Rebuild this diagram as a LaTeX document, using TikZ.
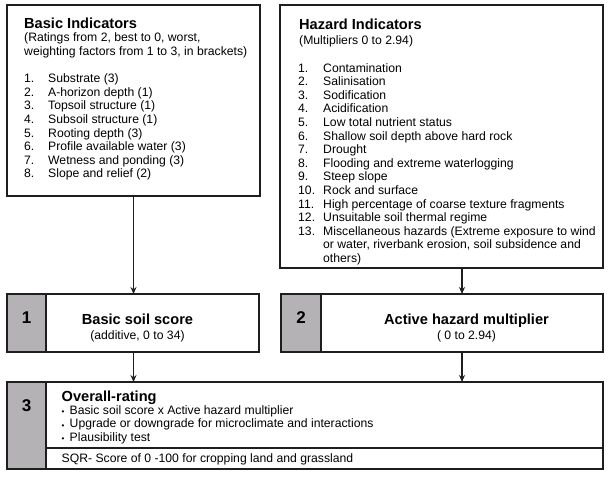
\documentclass[tikz,border=0pt]{standalone}
\usepackage{fontspec}
\setmainfont{Liberation Sans}
\usetikzlibrary{arrows.meta,positioning}
\definecolor{boxgrey}{RGB}{180,178,181}
\definecolor{boxline}{RGB}{30,30,30}
\tikzset{
    box/.style={rectangle, draw=boxline, line width=1.3pt, inner sep=0, outer sep=0, anchor=north west},
    nbox/.style={box, fill=boxgrey},
    ttl/.style={anchor=base west, inner sep=0, font=\fontsize{14.6}{16}\selectfont\bfseries},
    txt/.style={anchor=base west, inner sep=0, font=\fontsize{12.2}{13.6}\selectfont},
    num/.style={anchor=base, inner sep=0, font=\fontsize{17}{19}\selectfont\bfseries},
    dot/.style={anchor=base west, inner sep=0, font=\fontsize{8}{9}\selectfont},
    post/.style={-{Stealth[length=7pt, width=6pt]}, line width=1.2pt, draw=boxline},
  }

\begin{document}
\begin{tikzpicture}[x=1pt, y=1pt]
  \useasboundingbox (0,0) rectangle (610,-477);

  % indicator boxes
  \node (basic) [box, minimum width=253pt, minimum height=191pt] at (7,-5) {};
  \node (hazard) [box, minimum width=323pt, minimum height=263pt] at (280,-5) {};

  % numbered steps
  \node (num1) [nbox, minimum width=39pt, minimum height=58pt] at (7,-294) {};
  \node (score) [box, minimum width=213pt, minimum height=58pt, right=0pt of num1] {};
  \node (num2) [nbox, minimum width=40pt, minimum height=58pt] at (281,-294) {};
  \node (mult) [box, minimum width=282pt, minimum height=58pt, right=0pt of num2] {};
  \node (num3) [nbox, minimum width=39pt, minimum height=87pt] at (7,-382) {};
  \node (rating) [box, minimum width=557pt, minimum height=66pt] at (num3.north east) {};
  \node (sqr) [box, minimum width=557pt, minimum height=21pt, below=0pt of rating] {};

  \draw [post] (basic.south) -- (basic.south |- score.north);
  \draw [post] (basic.south |- score.south) -- (basic.south |- rating.north);
  \draw [post] (mult.north |- hazard.south) -- (mult.north);
  \draw [post] (mult.south) -- (mult.south |- rating.north);

  % basic indicators
  \node (basic-ttl) [ttl] at (24,-28.5) {Basic Indicators};
  \node (basic-n1) [txt] at (24,-41.8) {(Ratings from 2, best to 0, worst,};
  \node (basic-n2) [txt] at (24,-55.4) {weighting factors from 1 to 3, in brackets)};
  \foreach \t [count=\i] in {Substrate (3), A-horizon depth (1), Topsoil structure (1),
      Subsoil structure (1), Rooting depth (3), Profile available water (3),
      Wetness and ponding (3), Slope and relief (2)} {
    \node (basic-i\i) [txt] at (24,{-82.6-13.6*(\i-1)}) {\i.};
    \node (basic-t\i) [txt] at (48,{-82.6-13.6*(\i-1)}) {\t};
  }

  % hazard indicators
  \node (hazard-ttl) [ttl] at (299,-29) {Hazard Indicators};
  \node (hazard-n1) [txt] at (299,-44.8) {(Multipliers 0 to 2.94)};
  \foreach \t [count=\i] in {Contamination, Salinisation, Sodification, Acidification,
      Low total nutrient status, Shallow soil depth above hard rock, Drought,
      Flooding and extreme waterlogging, Steep slope, Rock and surface,
      High percentage of coarse texture fragments, Unsuitable soil thermal regime} {
    \node (hazard-i\i) [txt] at (298,{-72-13.6*(\i-1)}) {\i.};
    \node (hazard-t\i) [txt] at (323,{-72-13.6*(\i-1)}) {\t};
  }
  \node (hazard-i13) [txt] at (298,-235.2) {13.};
  \node (hazard-t13) [txt] at (323,-235.2) {Miscellaneous hazards (Extreme exposure to wind};
  \node (hazard-t14) [txt] at (323,-248.8) {or water, riverbank erosion, soil subsidence and};
  \node (hazard-t15) [txt] at (323,-262.4) {others)};

  % step texts
  \node (n1) [num] at (26.5,-323.3) {1};
  \node (score-ttl) [ttl, anchor=base] at (137.5,-324.3) {Basic soil score};
  \node (score-sub) [txt, anchor=base] at (137.5,-339) {(additive, 0 to 34)};
  \node (n2) [num] at (301,-323.3) {2};
  \node (mult-ttl) [ttl, anchor=base] at (466.5,-324.3) {Active hazard multiplier};
  \node (mult-sub) [txt, anchor=base] at (466.5,-339) {( 0 to 2.94)};
  \node (n3) [num] at (26.5,-411.7) {3};
  \node (rating-ttl) [ttl] at (61.5,-401.7) {Overall-rating};
  \foreach \t [count=\i] in {Basic soil score x Active hazard multiplier,
      Upgrade or downgrade for microclimate and interactions, Plausibility test} {
    \node (rating-d\i) [dot] at (61.5,{-414.6-13.4*(\i-1)}) {\textbullet};
    \node (rating-t\i) [txt] at (69.5,{-414.3-13.4*(\i-1)}) {\t};
  }
  \node (sqr-t) [txt] at (61.5,-462.7) {SQR- Score of 0 -100 for cropping land and grassland};
\end{tikzpicture}
\end{document}
